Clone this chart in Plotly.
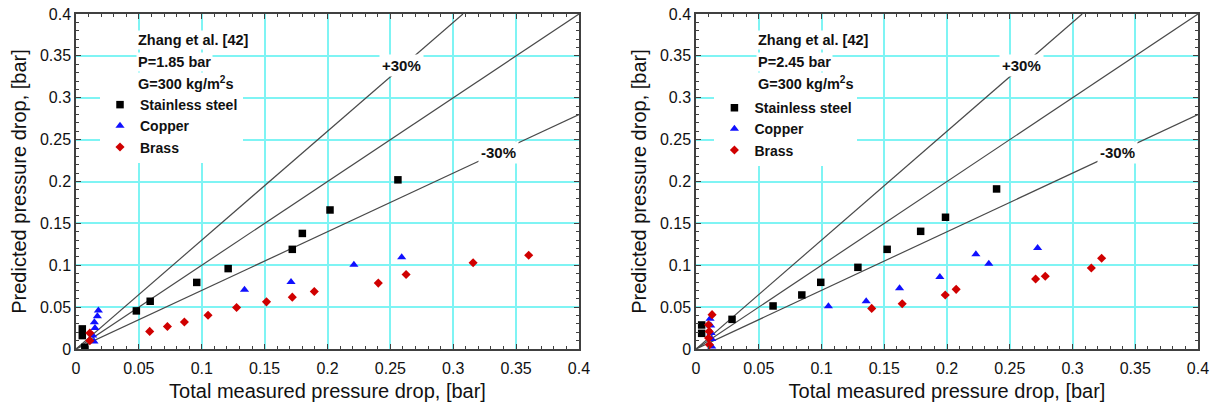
import plotly.graph_objects as go

# ---------------- data ----------------
# Left panel: P = 1.85 bar
ss1_x = [0.005, 0.005, 0.007, 0.048, 0.059, 0.096, 0.121, 0.172, 0.180, 0.202, 0.256]
ss1_y = [0.024, 0.016, 0.002, 0.0455, 0.057, 0.0795, 0.096, 0.119, 0.138, 0.166, 0.202]
cu1_x = [0.0178, 0.0170, 0.0146, 0.0151, 0.0133, 0.0143, 0.134, 0.171, 0.221, 0.259]
cu1_y = [0.046, 0.039, 0.032, 0.025, 0.016, 0.009, 0.0707, 0.080, 0.1007, 0.1095]
br1_x = [0.011, 0.011, 0.0586, 0.0727, 0.0862, 0.105, 0.1277, 0.1515, 0.172, 0.1895, 0.2404, 0.2625, 0.3158, 0.360]
br1_y = [0.019, 0.010, 0.021, 0.0268, 0.0323, 0.0403, 0.0495, 0.0563, 0.0619, 0.0687, 0.0787, 0.089, 0.103, 0.112]

# Right panel: P = 2.45 bar
ss2_x = [0.0045, 0.0045, 0.0287, 0.0614, 0.0843, 0.0994, 0.129, 0.1523, 0.179, 0.1988, 0.2395]
ss2_y = [0.0287, 0.0187, 0.0354, 0.0514, 0.0645, 0.0796, 0.0975, 0.119, 0.1405, 0.1573, 0.1911]
cu2_x = [0.0112, 0.0117, 0.0120, 0.0125, 0.0125, 0.1055, 0.1356, 0.1622, 0.1943, 0.223, 0.2333, 0.2722]
cu2_y = [0.036, 0.028, 0.019, 0.012, 0.003, 0.0509, 0.0569, 0.0724, 0.086, 0.113, 0.1019, 0.1207]
br2_x = [0.0128, 0.0100, 0.0105, 0.0100, 0.0107, 0.140, 0.1643, 0.1986, 0.2073, 0.2706, 0.2783, 0.315, 0.3232]
br2_y = [0.041, 0.029, 0.021, 0.013, 0.005, 0.0485, 0.054, 0.0645, 0.0712, 0.0836, 0.0868, 0.0968, 0.1083]

# reference lines: y = factor * x
band_factors = [1.0, 1.3, 0.7]
band_labels = ["", "+30%", "-30%"]
axis_max = 0.4
tick_vals = [0, 0.05, 0.1, 0.15, 0.2, 0.25, 0.3, 0.35, 0.4]
tick_text = ["0", "0.05", "0.1", "0.15", "0.2", "0.25", "0.3", "0.35", "0.4"]

series_names = ["Stainless steel", "Copper", "Brass"]
panel_pressures = ["1.85", "2.45"]

FONT = "Liberation Sans, Arial, sans-serif"
GRID = "#7ff4f4"

fig = go.Figure()

panels = [
    ("x", "y", "legend", [(ss1_x, ss1_y), (cu1_x, cu1_y), (br1_x, br1_y)]),
    ("x2", "y2", "legend2", [(ss2_x, ss2_y), (cu2_x, cu2_y), (br2_x, br2_y)]),
]
styles = [
    dict(symbol="square", size=7.5, color="#000000"),
    dict(symbol="triangle-up", size=8, color="#1010ff"),
    dict(symbol="diamond", size=7, color="#d00000"),
]

for xa, ya, lg, series in panels:
    # reference lines
    for f in band_factors:
        xend = min(axis_max, axis_max / f)
        fig.add_trace(go.Scatter(
            x=[0, xend], y=[0, f * xend], mode="lines",
            line=dict(color="#4a4a4a", width=1.2), showlegend=False,
            xaxis=xa, yaxis=ya, hoverinfo="skip"))
    for (sx, sy), name, st in zip(series, series_names, styles):
        fig.add_trace(go.Scatter(
            x=sx, y=sy, mode="markers", name=name,
            marker=dict(symbol=st["symbol"], size=st["size"], color=st["color"],
                        line=dict(width=0)),
            xaxis=xa, yaxis=ya, legend=lg))

axis_common = dict(
    range=[0, axis_max], tickmode="array", tickvals=tick_vals, ticktext=tick_text,
    showgrid=True, gridcolor=GRID, gridwidth=2, zeroline=False,
    showline=True, linecolor="#404040", linewidth=1.5, mirror="allticks",
    ticks="inside", ticklen=5, tickcolor="#404040", tickwidth=1,
    minor=dict(dtick=0.01, tick0=0, ticks="inside", ticklen=3, tickcolor="#404040", showgrid=False),
    tickfont=dict(size=16, color="#111", family=FONT),
    automargin=False,
)

xtitle = dict(text="Total measured pressure drop, [bar]", font=dict(size=20, family=FONT, color="#111"), standoff=8)
ytitle = dict(text="Predicted pressure drop, [bar]", font=dict(size=20, family=FONT, color="#111"), standoff=8)

annotations = []
for i, (xr, yr) in enumerate([("x", "y"), ("x2", "y2")]):
    header = ["Zhang et al. [42]", "P=%s bar" % panel_pressures[i], "G=300 kg/m<sup>2</sup>s"]
    for txt, yy in zip(header, [0.369, 0.3425, 0.318]):
        annotations.append(dict(
            x=0.048, y=yy, xref=xr, yref=yr, text=txt, showarrow=False,
            xanchor="left", yanchor="middle", bgcolor="white", borderpad=1,
            font=dict(size=14.5, family=FONT, color="#111", weight="bold")))
    annotations.append(dict(
        x=0.259, y=0.339, xref=xr, yref=yr, text="+30%", showarrow=False,
        bgcolor="white", borderpad=2,
        font=dict(size=15, family=FONT, color="#111", weight="bold")))
    annotations.append(dict(
        x=0.336, y=0.235, xref=xr, yref=yr, text="-30%", showarrow=False,
        bgcolor="white", borderpad=2,
        font=dict(size=15, family=FONT, color="#111", weight="bold")))

legend_common = dict(
    xanchor="left", yanchor="top", bgcolor="white", borderwidth=0,
    tracegroupgap=0,
    font=dict(size=14, family=FONT, color="#111", weight="bold"),
)

fig.update_layout(
    width=1212, height=407,
    margin=dict(l=76, r=14, t=14, b=58, autoexpand=False),
    paper_bgcolor="white", plot_bgcolor="white",
    font=dict(family=FONT),
    xaxis=dict(domain=[0, 0.4483], anchor="y", title=xtitle, ticklabelstandoff=4, **axis_common),
    yaxis=dict(domain=[0, 1], anchor="x", title=ytitle, **axis_common),
    xaxis2=dict(domain=[0.5526, 1], anchor="y2", title=xtitle, ticklabelstandoff=4, **axis_common),
    yaxis2=dict(domain=[0, 1], anchor="x2", title=ytitle, **axis_common),
    legend=dict(x=0.0214, y=0.776, **legend_common),
    legend2=dict(x=0.569, y=0.767, **legend_common),
    annotations=annotations,
    showlegend=True,
)

fig.write_html("out.html")
